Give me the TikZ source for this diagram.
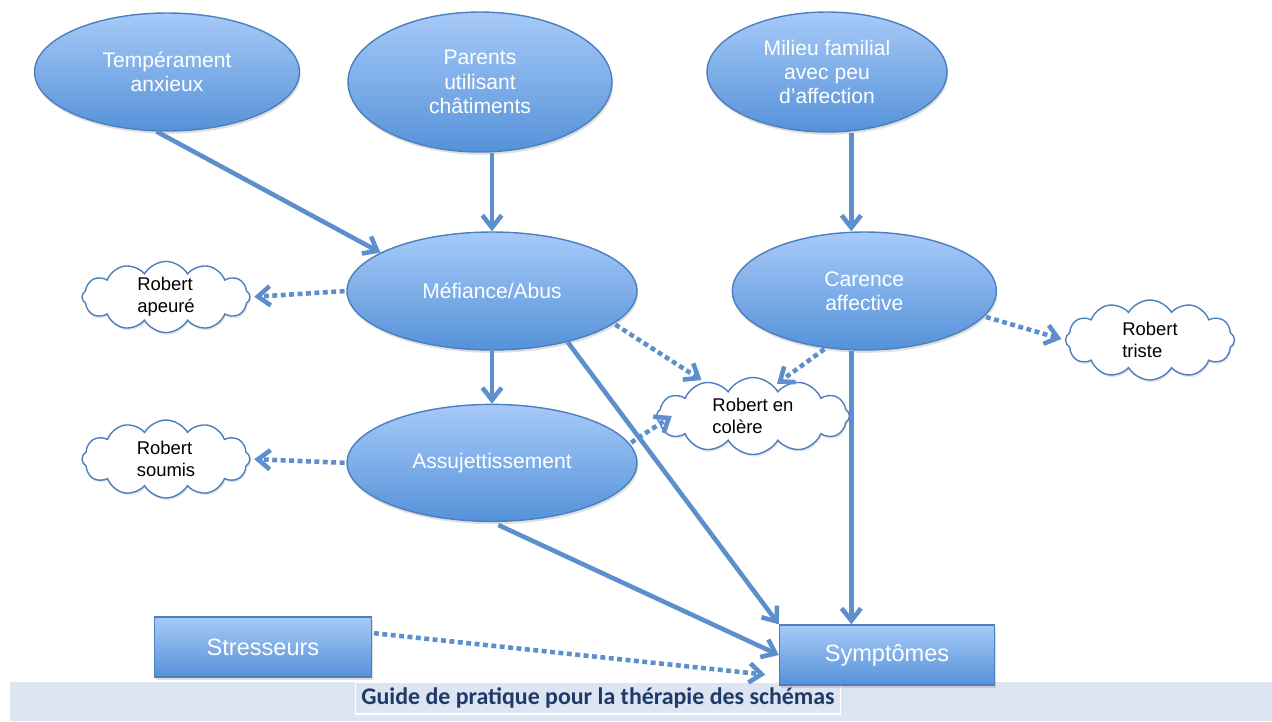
\documentclass[tikz,border=0pt]{standalone}
\usepackage{fontspec}
\setmainfont{Liberation Sans}
\newfontfamily\guidefont{Carlito}
\usetikzlibrary{shapes,shadows,arrows.meta,positioning,calc}
\definecolor{schemaTop}{HTML}{A7CAF8}
\definecolor{schemaBot}{HTML}{5592D9}
\definecolor{schemaLine}{HTML}{4C7FBF}
\definecolor{flecheBleu}{HTML}{5C8FCB}
\definecolor{bandeau}{HTML}{DCE5F1}
\definecolor{titreBleu}{HTML}{1F3A68}

\begin{document}
\begin{tikzpicture}
[x=0.02cm,y=-0.02cm,node distance=1cm,
schema/.style={shape=ellipse,draw=schemaLine,thick,top color=schemaTop,bottom color=schemaBot,
  text=white,align=center,inner sep=1pt,font=\fontsize{12}{13.9}\selectfont,
  drop shadow={opacity=.25,shadow xshift=.6pt,shadow yshift=-1.6pt}},
boite/.style={shape=rectangle,draw=schemaLine,thick,top color=schemaTop,bottom color=schemaBot,
  text=white,font=\fontsize{13.4}{15}\selectfont,
  drop shadow={opacity=.25,shadow xshift=.6pt,shadow yshift=-1.6pt}},
nuage/.style={shape=cloud,cloud puffs=12,cloud puff arc=120,cloud ignores aspect,
  draw=schemaLine,thick,fill=white,align=left,inner sep=1pt,font=\fontsize{10.5}{12.5}\selectfont,
  drop shadow={opacity=.2,shadow xshift=.6pt,shadow yshift=-1.2pt}},
%
c3/.style={dash pattern=on 2.8pt off 2pt,shorten >=2pt,shorten <=1pt},
%
myedge/.style={line width=2.6pt,flecheBleu,-{Straight Barb[length=7pt,width=11pt]}}]
%
\useasboundingbox (0,0) rectangle (1272,721);
\fill[bandeau] (10,682) rectangle (1272,721);
\node (guide) [draw=white,line width=1pt,fill=bandeau,minimum width=9.6cm,minimum height=.6cm,
  text=titreBleu,font=\guidefont\bfseries\fontsize{13.6}{15}\selectfont] at (598,698)
  {Guide de pratique pour la thérapie des schémas};
%
\node (temp) [schema,minimum width=5.3cm,minimum height=2.36cm] at (167,72) {Tempérament\\anxieux};
\node (par) [schema,minimum width=5.28cm,minimum height=2.8cm] at (480,82) {Parents\\utilisant\\châtiments};
\node (mil) [schema,minimum width=4.8cm,minimum height=2.4cm] at (827,72) {Milieu familial\\avec peu\\d’affection};
\node (mef) [schema,minimum width=5.8cm,minimum height=2.36cm] at (492,291) {Méfiance/Abus};
\node (car) [schema,minimum width=5.28cm,minimum height=2.36cm,right=1.88cm of mef] {Carence\\affective};
\node (ass) [schema,minimum width=5.8cm,minimum height=2.34cm,below=1.06cm of mef] {Assujettissement};
%
\node (stress) [boite,minimum width=4.34cm,minimum height=1.2cm] at (263,647) {Stresseurs};
\node (symp) [boite,minimum width=4.3cm,minimum height=1.2cm] at (887,655) {Symptômes};
%
\node (apeure) [nuage,minimum width=3.36cm,minimum height=1.4cm] at (166,297) {Robert\\apeuré};
\node (soumis) [nuage,minimum width=3.36cm,minimum height=1.56cm] at (166,459) {Robert\\soumis};
\node (colere) [nuage,minimum width=3.86cm,minimum height=1.54cm] at (753,416) {Robert en\\colère};
\node (triste) [nuage,minimum width=3.38cm,minimum height=1.6cm] at (1150,340) {Robert\\triste};
%
\coordinate (k) at ($(car.north)+(-13,0)$);
%
\draw[myedge] (temp.-100) -- (mef.161);
\draw[myedge] (mef.north |- par.south) -- (mef.north);
\draw[myedge] (k |- mil.south) -- (k);
%
\draw[myedge] (mef.south) -- (ass.north);
\draw[myedge] (mef.-34) -- (symp.north west);
\draw[myedge,shorten <=4pt] (ass.south) -- (symp.west);
\draw[myedge] (k |- car.south) -- (k |- symp.north);
%
\draw[myedge,c3] (mef.west) -- (apeure.east);
\draw[myedge,c3] (ass.west) -- (soumis.east);
\draw[myedge,c3] (mef.-15) -- (colere.145);
\draw[myedge,c3] (car.-124) -- (colere.55);
\draw[myedge,c3] (car.-12) -- (triste.west);
\draw[myedge,c3,shorten >=0pt] (ass.8) -- ($(colere.west)+(16,0)$);
%
\draw[myedge,c3] ($(stress.east)+(0,-14)$) -- ($(symp.west)+(-10,20)$);
\end{tikzpicture}
\end{document}
